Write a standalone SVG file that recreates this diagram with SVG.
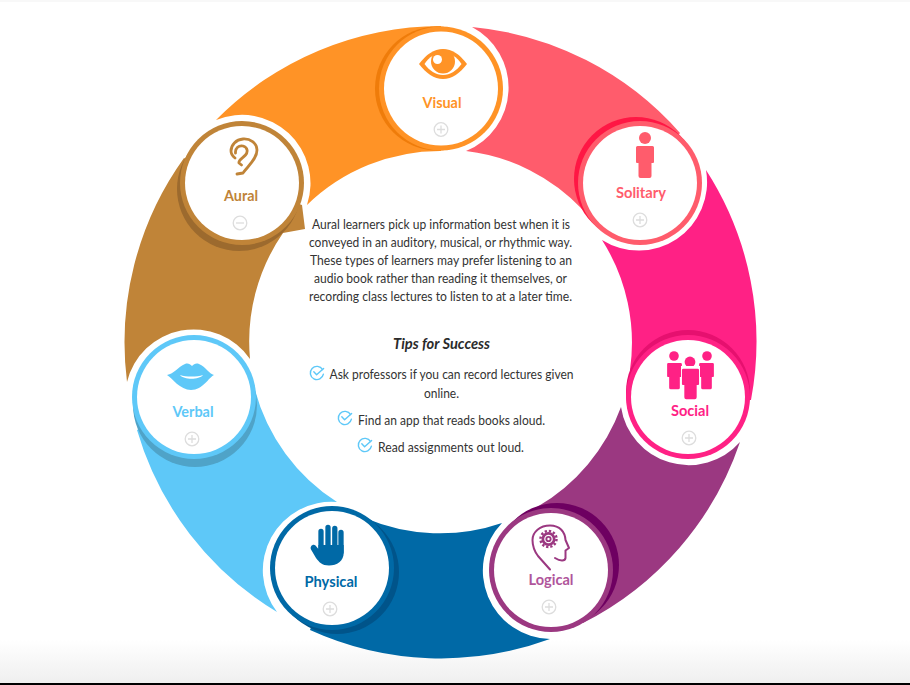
<svg xmlns="http://www.w3.org/2000/svg" width="910" height="685" viewBox="0 0 910 685">
<style>
.lbl{font-family:"Lato","Liberation Sans",sans-serif;font-weight:700;font-size:15px;text-anchor:middle}
.body{font-family:"Lato","Liberation Sans",sans-serif;font-size:13px;fill:#333}
.tips{font-family:"Lato","Liberation Sans",sans-serif;font-size:15px;font-weight:700;font-style:italic;fill:#2b2b2b}
.tg circle{fill:none;stroke:#dddddd;stroke-width:1.3}
.tg path{fill:none;stroke:#dddddd;stroke-width:1.3}
.chk{fill:none;stroke:#5ec8f8;stroke-width:1.4;stroke-linecap:round;stroke-linejoin:round}
.in{fill:#fff}
</style>
<defs>
<linearGradient id="bg" x1="0" y1="0" x2="0" y2="1"><stop offset="0" stop-color="#fff"/><stop offset="1" stop-color="#efefef"/></linearGradient>
<g id="plus" class="tg"><circle r="6.8"/><path d="M-4 0H4M0-4V4"/></g>
<g id="minus" class="tg"><circle r="6.8"/><path d="M-4 0H4"/></g>
<g id="check"><path class="chk" d="M5.600-3.400A6.600 6.600 0 1 0 6.400 1.200"/><path class="chk" d="M-3.200-1.200L-.4 1.800L6.600-4.600"/></g>
<path id="person" d="M-7.500-17h15a1.500 1.500 0 0 1 1.500 1.500V-1a1 1 0 0 1-1 1H6.500V13a2 2 0 0 1-2 2h-9a2 2 0 0 1-2-2V0H-8a1 1 0 0 1-1-1V-15.500A1.500 1.500 0 0 1-7.500-17Z"/>
</defs>
<rect width="910" height="685" fill="#fff"/>
<rect width="910" height="2" fill="#f8f8f8"/>
<rect y="640" width="910" height="43" fill="url(#bg)"/>
<rect y="683" width="910" height="2" fill="#000"/>
<g id="connectors">
<path id="seg-orange" fill="#ff9326" d="M216 120A316 316 0 0 1 441 26L441 88L441 151A191 191 0 0 0 307 205A68.500 68.500 0 0 0 216 120Z"/>
<path id="seg-coral" fill="#ff5c6c" d="M472 27A316 316 0 0 1 680 133L640 183L583 210A191 191 0 0 0 466 151A68.500 68.500 0 0 0 472 27Z"/>
<path id="seg-pink" fill="#ff2185" d="M706 170A316 316 0 0 1 751 400L688 397L630 370A191 191 0 0 0 602 240A68.500 68.500 0 0 0 706 170Z"/>
<path id="seg-purple" fill="#9b3881" d="M740 442A316 316 0 0 1 583 623L551 570L537 507A191 191 0 0 0 621 407A68.500 68.500 0 0 0 740 442Z"/>
<path id="seg-navy" fill="#0069a6" d="M550 639A316 316 0 0 1 310 630L332 568L365 518A191 191 0 0 0 502 523A68.500 68.500 0 0 0 550 639Z"/>
<path id="seg-sky" fill="#5ec8f8" d="M277 612A316 316 0 0 1 137 430L194 397L255 390A191 191 0 0 0 337 502A68.500 68.500 0 0 0 277 612Z"/>
<path id="seg-brown" fill="#c08438" d="M127 382A316 316 0 0 1 184 158L242 183L302 205L305 229L283 233A191 191 0 0 0 250 359A68.500 68.500 0 0 0 127 382Z"/>
</g>
<g id="node-visual">
<circle cx="437" cy="88.500" r="62" fill="#ef7c0a"/><circle cx="441" cy="88.500" r="62" fill="#ff9326"/><circle class="in" cx="441" cy="88.500" r="57"/>
<path fill="#ff9326" d="M419 64C426 54.500 434 49 443 49C452 49 460 54.500 467 64C460 73 452 79 443 79C434 79 426 73 419 64Z"/>
<path fill="#fff" d="M424.500 64C429 57 436 52.500 443 52.500C450 52.500 457 57 461.500 64C457 70.500 450 75 443 75C436 75 429 70.500 424.500 64Z"/>
<circle cx="443" cy="61.500" r="12" fill="#ff9326"/><circle cx="437.500" cy="59.500" r="4.500" fill="#fff"/>
<text class="lbl" x="442" y="108" fill="#ff9326" textLength="39" lengthAdjust="spacingAndGlyphs">Visual</text>
<use href="#plus" x="441" y="129.500"/>
</g>
<g id="node-solitary">
<circle cx="636" cy="179" r="62" fill="#ff1744"/><circle cx="640" cy="183" r="62" fill="#ff5c6c"/><circle class="in" cx="640" cy="183" r="57"/>
<circle cx="645" cy="138" r="6" fill="#ff5c6c"/>
<use href="#person" x="645" y="163" fill="#ff5c6c"/>
<text class="lbl" x="641" y="198" fill="#ff5c6c" textLength="50" lengthAdjust="spacingAndGlyphs">Solitary</text>
<use href="#plus" x="640" y="220"/>
</g>
<g id="node-social">
<circle cx="688" cy="392" r="62" fill="#e6106f"/><circle cx="688" cy="397" r="62" fill="#ff2185"/><circle class="in" cx="688" cy="397" r="57"/>
<g fill="#ff2185">
<circle cx="674" cy="356" r="4.800"/><circle cx="707" cy="356" r="4.800"/><circle cx="690" cy="362" r="5.400"/>
<use href="#person" transform="translate(674.500 377) scale(.82)"/>
<use href="#person" transform="translate(706.500 377) scale(.82)"/>
<path fill="#fff" d="M681 366h19v34h-19z"/>
<use href="#person" transform="translate(690.500 385) scale(.95)"/>
</g>
<text class="lbl" x="690" y="416" fill="#ff2185" textLength="38" lengthAdjust="spacingAndGlyphs">Social</text>
<use href="#plus" x="689" y="438"/>
</g>
<g id="node-logical">
<circle cx="557" cy="565" r="62" fill="#6e0061"/><circle cx="551" cy="570" r="62" fill="#9b3881"/><circle class="in" cx="551" cy="570" r="57"/>
<path fill="none" stroke="#9b3881" stroke-width="2" stroke-linejoin="round" stroke-linecap="round" d="M550 569.500L538 556C535 552 532.500 547 532.500 540C532.500 532 540 525.500 550 525.500C560 525.500 565 532 565.500 540L569 548L565.500 550.500V558C565 561.500 560 561 555 558"/>
<circle cx="548.500" cy="539" r="7" fill="#9b3881"/>
<circle cx="548.500" cy="539" r="8" fill="none" stroke="#9b3881" stroke-width="2.500" stroke-dasharray="2.300 1.900"/>
<circle cx="548.500" cy="539" r="4.300" fill="#fff"/><circle cx="548.500" cy="539" r="3.100" fill="#9b3881"/><circle cx="548.500" cy="539" r="1.200" fill="#fff"/>
<text class="lbl" x="551" y="585" fill="#b0559b" textLength="45" lengthAdjust="spacingAndGlyphs">Logical</text>
<use href="#plus" x="549" y="607"/>
</g>
<g id="node-physical">
<circle cx="337" cy="572" r="62" fill="#00548a"/><circle cx="332" cy="568" r="62" fill="#0069a6"/><circle class="in" cx="332" cy="568" r="57"/>
<g stroke="#0069a6" stroke-width="5.300" stroke-linecap="round" fill="none"><path d="M321 531.500V550M328 527.500V550M334.800 528.500V550M341 532.500V552"/></g>
<path fill="#0069a6" d="M318.400 545H343.700V553C343.700 561 337 565.500 329 565.500C322 565.500 319 562 316 558L311 549.500C309.500 546.500 313 543.500 315.500 545.500L318.400 549Z"/>
<text class="lbl" x="331" y="587" fill="#0069a6" textLength="53" lengthAdjust="spacingAndGlyphs">Physical</text>
<use href="#plus" x="330" y="609"/>
</g>
<g id="node-verbal">
<circle cx="195" cy="405" r="62" fill="#4fa3c8"/><circle cx="194" cy="397" r="62" fill="#5ec8f8"/><circle class="in" cx="194" cy="397" r="57"/>
<path fill="#5ec8f8" d="M167 375C174 374 178 367 185 364C188 363 190 364 192 366C194 364 196 363 199 364C206 367 209 374 214 375C209 377 203 390 191 390C180 390 172 378 167 375Z"/>
<path fill="#fff" d="M180 375C186 377 197 377 203 375C199 380 184 380 180 375Z"/>
<text class="lbl" x="193" y="417" fill="#5ec8f8" textLength="41" lengthAdjust="spacingAndGlyphs">Verbal</text>
<use href="#plus" x="192" y="439"/>
</g>
<g id="node-aural">
<circle cx="239" cy="189" r="62" fill="#9c6a2e"/><circle cx="242" cy="183" r="62" fill="#c08438"/><circle class="in" cx="242" cy="183" r="57"/>
<path fill="none" stroke="#c08438" stroke-width="2.800" stroke-linecap="round" stroke-linejoin="round" d="M237 174L243 173C248 166 257 159 257 150C257 143 250 138.500 243 139C236 139.500 231 145 231 151C231 155 233 156.500 235 158M235.500 153C235 148 239 145 243 146C248 147.500 248 152 245.500 155C243 158 238 160 239 163L241.500 165"/>
<text class="lbl" x="241" y="201" fill="#c08438" textLength="34" lengthAdjust="spacingAndGlyphs">Aural</text>
<use href="#minus" x="240" y="223"/>
</g>
<g id="content">
<text class="body" x="312" y="229" textLength="258" lengthAdjust="spacingAndGlyphs">Aural learners pick up information best when it is</text>
<text class="body" x="309" y="247" textLength="263" lengthAdjust="spacingAndGlyphs">conveyed in an auditory, musical, or rhythmic way.</text>
<text class="body" x="310" y="265" textLength="262" lengthAdjust="spacingAndGlyphs">These types of learners may prefer listening to an</text>
<text class="body" x="314" y="283" textLength="253" lengthAdjust="spacingAndGlyphs">audio book rather than reading it themselves, or</text>
<text class="body" x="309" y="301" textLength="263" lengthAdjust="spacingAndGlyphs">recording class lectures to listen to at a later time.</text>
<text class="tips" x="393" y="349" textLength="97" lengthAdjust="spacingAndGlyphs">Tips for Success</text>
<use href="#check" x="317" y="373"/>
<text class="body" x="329.500" y="379" textLength="244" lengthAdjust="spacingAndGlyphs">Ask professors if you can record lectures given</text>
<text class="body" x="424" y="398" textLength="35" lengthAdjust="spacingAndGlyphs">online.</text>
<use href="#check" x="345" y="418"/>
<text class="body" x="358" y="425" textLength="187" lengthAdjust="spacingAndGlyphs">Find an app that reads books aloud.</text>
<use href="#check" x="365" y="445"/>
<text class="body" x="378" y="452" textLength="146" lengthAdjust="spacingAndGlyphs">Read assignments out loud.</text>
</g>
</svg>
